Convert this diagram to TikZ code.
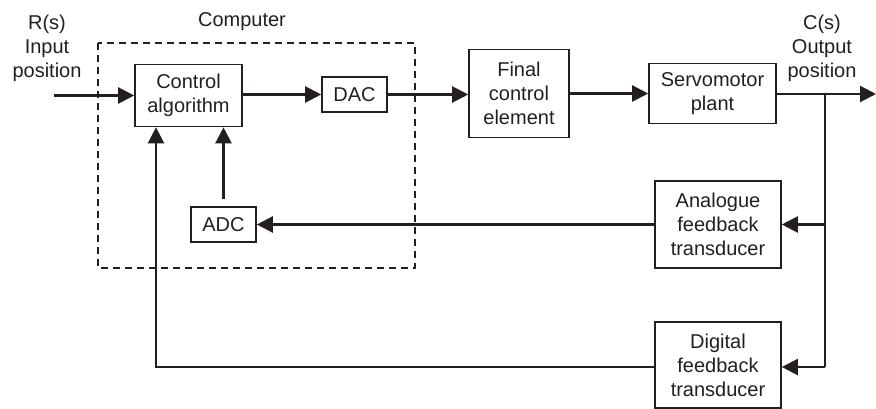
\documentclass[tikz,border=0pt]{standalone}
\usepackage{fontspec}
\setmainfont{Liberation Sans}
\usetikzlibrary{arrows.meta}
\definecolor{ink}{HTML}{231F20}
\begin{document}
\begin{tikzpicture}[x=1pt,y=-1pt,
  font=\fontsize{20}{24}\selectfont,
  blk/.style={draw=ink, line width=1.6pt, align=center, inner sep=0pt, text=ink},
  lbl/.style={align=center, text=ink, inner sep=0pt},
  con/.style={draw=ink, line width=2.2pt, -{Triangle[length=16pt,width=16pt]}},
  ln/.style={draw=ink, line width=2.2pt}]
\useasboundingbox (0,0) rectangle (876,409);
% computer boundary
\draw[ink, line width=1.7pt, dash pattern=on 7pt off 5pt] (98,43) rectangle (415,268);
% blocks
\node[blk, minimum width=107pt, minimum height=62pt] (ca) at (188.5,95.5) {Control\\algorithm};
\node[blk, minimum width=65pt, minimum height=35pt] (dac) at (354.5,94.5) {DAC};
\node[blk, minimum width=100pt, minimum height=88pt] (fce) at (519,93.5) {Final\\control\\element};
\node[blk, minimum width=127pt, minimum height=60pt] (sp) at (712.5,93.5) {Servomotor\\plant};
\node[blk, minimum width=65pt, minimum height=35pt] (adc) at (223.5,224.5) {ADC};
\node[blk, minimum width=126pt, minimum height=87pt] (aft) at (718,224.5) {Analogue\\feedback\\transducer};
\node[blk, minimum width=126pt, minimum height=86pt] (dft) at (718,365) {Digital\\feedback\\transducer};
% labels
\node[lbl] (rs) at (47,48) {R(s)\\Input\\position};
\node[lbl] (cs) at (822,48.5) {C(s)\\Output\\position};
\node[lbl] (comp) at (242,22) {Computer};
% forward path
\coordinate (rin) at (54,95.5);
\coordinate (out) at (876,94);
\coordinate (br) at (825,94);
\coordinate (bend) at (825,367);
\coordinate (fbx) at (156,367);
\draw[con] (rin) -- (rin -| ca.west);
\draw[con] (ca.east |- dac.west) -- (dac.west);
\draw[con] (dac.east) -- (dac.east -| fce.west);
\draw[con] (fce.east |- sp.west) -- (sp.west);
\draw[con] (sp.east |- out) -- (out);
% feedback
\draw[ln] (br) -- (bend);
\draw[con] (br |- aft.east) -- (aft.east);
\draw[con] (bend) -- (bend -| dft.east);
\draw[con] (aft.west) -- (adc.east);
\draw[con, shorten <=7pt] (adc.north) -- (adc.north |- ca.south);
\draw[con] (bend -| dft.west) -- (fbx) -- (fbx |- ca.south);
\end{tikzpicture}
\end{document}
